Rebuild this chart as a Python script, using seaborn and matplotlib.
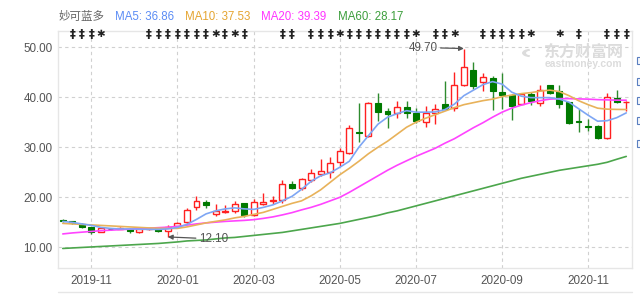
import numpy as np
import pandas as pd
import matplotlib
matplotlib.use("Agg")
import matplotlib.pyplot as plt
from matplotlib.patches import Rectangle, Wedge
from matplotlib.lines import Line2D
import seaborn as sns

# ---------------- data (weekly candles) ----------------
opens = [15.4, 15.2, 14.7, 14.0, 13.1, 13.75, 13.7, 13.7, 13.0, 13.6,
         13.8, 13.2, 14.2, 15.0, 18.0, 19.0, 16.6, 17.1, 17.2, 18.8,
         16.5, 18.7, 19.3, 19.4, 22.7, 21.8, 23.4, 24.6, 25.0, 27.0,
         28.8, 33.0, 32.2, 38.9, 37.2, 36.8, 38.0, 36.8, 35.1, 36.9,
         38.6, 37.8, 42.5, 45.5, 43.1, 43.9, 41.0, 40.4, 38.6, 40.6,
         38.9, 42.4, 41.3, 39.1, 35.2, 34.2, 34.2, 31.8, 39.9, 39.0]
highs = [15.6, 15.3, 14.8, 14.1, 14.1, 13.9, 14.0, 13.9, 13.8, 13.9,
         14.0, 14.4, 15.0, 17.9, 20.2, 19.5, 18.7, 18.4, 19.2, 18.9,
         19.6, 20.9, 20.3, 23.4, 23.3, 23.8, 25.6, 27.6, 28.1, 29.8,
         34.4, 38.8, 39.1, 40.8, 37.9, 39.2, 39.2, 37.9, 38.3, 38.6,
         43.3, 45.1, 49.7, 47.1, 44.9, 44.2, 44.9, 40.6, 40.9, 41.0,
         42.4, 42.5, 42.4, 39.1, 37.6, 35.6, 34.4, 40.9, 41.4, 39.3]
lows = [15.1, 14.7, 13.9, 12.7, 13.0, 13.5, 13.6, 12.9, 12.8, 13.5,
        13.1, 12.1, 13.8, 14.6, 17.4, 17.9, 16.2, 16.9, 16.9, 16.0,
        16.3, 18.4, 18.6, 18.9, 21.6, 21.5, 23.0, 24.2, 23.9, 26.2,
        28.6, 31.0, 32.0, 35.2, 33.8, 35.9, 35.9, 34.9, 34.0, 34.6,
        37.5, 37.3, 42.3, 41.6, 41.3, 37.5, 37.7, 35.5, 38.4, 38.4,
        38.3, 40.6, 37.9, 34.6, 33.1, 33.2, 31.6, 31.6, 38.8, 37.2]
closes = [15.25, 14.8, 14.1, 13.1, 13.9, 13.65, 13.8, 13.2, 13.7, 13.7,
          13.3, 14.1, 14.9, 17.5, 19.2, 18.4, 17.3, 17.3, 18.7, 16.4,
          19.0, 19.1, 19.5, 22.6, 21.9, 23.6, 24.9, 25.2, 26.8, 29.2,
          33.9, 32.8, 38.9, 37.1, 36.6, 38.0, 36.9, 35.3, 36.9, 37.7,
          37.7, 42.4, 46.0, 42.3, 44.1, 41.3, 40.5, 38.2, 40.6, 39.3,
          41.5, 40.8, 38.6, 34.8, 35.0, 34.0, 31.9, 40.0, 39.1, 39.1]

ma5 = [15.2, 15.0, 14.7, 14.4, 14.0, 13.8, 13.7, 13.7, 13.65, 13.6,
       13.6, 13.7, 14.0, 14.6, 15.6, 16.7, 17.3, 17.7, 17.9, 17.7,
       17.6, 18.0, 18.5, 19.3, 20.2, 21.6, 23.2, 24.3, 24.9, 26.0,
       27.2, 30.0, 32.3, 34.6, 36.0, 36.7, 37.3, 37.0, 37.0, 37.05,
       37.5, 38.6, 40.3, 41.4, 42.5, 43.1, 42.6, 41.0, 40.2, 39.9,
       39.9, 39.9, 39.6, 39.0, 37.7, 36.4, 35.2, 35.3, 35.9, 36.86]
ma10 = [14.8, 14.7, 14.6, 14.5, 14.4, 14.3, 14.2, 14.1, 14.0, 13.9,
        13.85, 13.8, 13.8, 14.1, 14.5, 14.9, 15.2, 15.5, 15.9, 16.2,
        16.6, 17.0, 17.6, 18.2, 18.8, 19.3, 20.3, 21.5, 23.0, 24.5,
        25.8, 27.2, 28.7, 30.0, 31.2, 32.6, 34.0, 35.0, 35.8, 36.5,
        37.2, 37.9, 38.5, 38.9, 39.3, 39.6, 40.1, 40.4, 40.7, 40.9,
        41.2, 41.4, 41.1, 40.3, 39.3, 38.5, 37.8, 37.6, 37.55, 37.53]
ma20 = [12.7, 12.9, 13.05, 13.2, 13.35, 13.45, 13.55, 13.65, 13.75, 13.85,
        13.95, 14.05, 14.2, 14.45, 14.7, 14.9, 15.05, 15.2, 15.3, 15.4,
        15.55, 15.8, 16.1, 16.5, 16.95, 17.5, 18.0, 18.6, 19.3, 20.0,
        21.0, 22.1, 23.2, 24.3, 25.4, 26.4, 27.3, 28.2, 29.0, 29.8,
        30.8, 31.7, 32.8, 33.9, 34.9, 36.0, 37.0, 37.8, 38.4, 38.9,
        39.3, 39.6, 39.7, 39.7, 39.65, 39.6, 39.5, 39.45, 39.4, 39.39]
ma60 = [9.8, 9.9, 10.0, 10.1, 10.2, 10.3, 10.4, 10.5, 10.6, 10.7,
        10.8, 10.95, 11.1, 11.3, 11.4, 11.5, 11.7, 11.9, 12.0, 12.2,
        12.4, 12.6, 12.8, 13.0, 13.3, 13.6, 13.9, 14.2, 14.5, 14.8,
        15.2, 15.6, 16.0, 16.4, 16.9, 17.3, 17.8, 18.3, 18.8, 19.3,
        19.8, 20.3, 20.8, 21.3, 21.8, 22.3, 22.8, 23.3, 23.8, 24.2,
        24.6, 25.0, 25.4, 25.7, 26.0, 26.3, 26.6, 27.0, 27.6, 28.17]

tick_pos = [3, 12, 20, 29, 37, 46, 55]
tick_labels = ["2019-11", "2020-01", "2020-03", "2020-05", "2020-07", "2020-09", "2020-11"]
y_ticks = [10, 20, 30, 40, 50]

dagger_idx = [1, 2, 3, 9, 10, 11, 12, 13, 14, 15, 17, 19, 23, 24, 26, 27, 28,
              30, 31, 32, 33, 34, 35, 36, 39, 40, 44, 45, 46, 47, 48, 54, 57, 58, 59]
star_idx = [4, 16, 18, 29, 37, 41, 49, 52]

stock_name = "妙可蓝多"
ma_labels = ["MA5: 36.86", "MA10: 37.53", "MA20: 39.39", "MA60: 28.17"]

# ---------------- style ----------------
sns.set_theme(style="white")
plt.rcParams["font.family"] = ["Liberation Sans", "Noto Sans CJK SC", "DejaVu Sans"]

RED = "#FF2020"
GREEN = "#007A00"
GREEN_WICK = "#2E8B2E"
C_MA5, C_MA10, C_MA20, C_MA60 = "#7EA6F4", "#E8B25A", "#FF44FF", "#4CA64C"

W, H = 640, 297
fig = plt.figure(figsize=(6.4, 2.97), dpi=100)
fig.patch.set_facecolor("white")
ax = fig.add_axes([58 / W, 1 - 268 / H, (632 - 58) / W, (268 - 31) / H])


def px(x, y):
    return x / W, 1 - y / H


# watermark (drawn behind the axes content)
fig.text(*px(583, 52), "东方财富网", ha="center", va="center", fontsize=11.5,
         color="#DCDCDC", fontweight="bold", zorder=0)
fig.text(*px(583, 64), "eastmoney.com", ha="center", va="center", fontsize=7.5,
         color="#DCDCDC", fontweight="bold", zorder=0)
fig.add_artist(Wedge(px(531, 53), 9 / W, 100, 260, width=4 / W, transform=fig.transFigure,
                     facecolor="#DCDCDC", edgecolor="none", zorder=0))
ax.patch.set_alpha(0)

n = len(closes)
idx = np.arange(n)
df = pd.DataFrame({"i": idx, "open": opens, "high": highs, "low": lows, "close": closes,
                   "MA5": ma5, "MA10": ma10, "MA20": ma20, "MA60": ma60})

# grid
for yv in y_ticks:
    ax.axhline(yv, color="#D0D0D0", lw=0.8, ls=(0, (3, 3)), zorder=0)
for xv in tick_pos:
    ax.axvline(xv, color="#D0D0D0", lw=0.8, ls=(0, (3, 3)), zorder=0)

# candles
bw = 0.62
for _, r in df.iterrows():
    rising = r["close"] >= r["open"]
    wcol = RED if rising else GREEN_WICK
    lo_b, hi_b = min(r["open"], r["close"]), max(r["open"], r["close"])
    ax.vlines(r["i"], r["low"], lo_b, color=wcol, lw=1.0, zorder=3)
    ax.vlines(r["i"], hi_b, r["high"], color=wcol, lw=1.0, zorder=3)
    h = max(hi_b - lo_b, 0.12)
    if rising:
        ax.add_patch(Rectangle((r["i"] - bw / 2, lo_b), bw, h, facecolor="white",
                               edgecolor=RED, lw=1.0, zorder=4))
    else:
        ax.add_patch(Rectangle((r["i"] - bw / 2, lo_b), bw, h, facecolor=GREEN,
                               edgecolor=GREEN, lw=0.8, zorder=4))

# moving averages via seaborn
for col, c in [("MA60", C_MA60), ("MA20", C_MA20), ("MA10", C_MA10), ("MA5", C_MA5)]:
    sns.lineplot(data=df, x="i", y=col, ax=ax, color=c, lw=1.2, zorder=5, legend=False)

# markers on top
for i in dagger_idx:
    ax.text(i, 52.6, "‡", ha="center", va="center", fontsize=8.5, fontweight="bold",
            color="#222222", family=["DejaVu Sans"], zorder=6)
for i in star_idx:
    ax.text(i, 52.6, "✱", ha="center", va="center", fontsize=7.5,
            color="#222222", family=["DejaVu Sans"], zorder=6)

# high / low annotations
imax = int(np.argmax(highs))
imin = int(np.argmin(lows))
ax.annotate(f"{highs[imax]:.2f}", xy=(imax, highs[imax]), xytext=(imax - 4.3, highs[imax] + 0.2),
            ha="center", va="center", fontsize=8.4, color="#555555",
            arrowprops=dict(arrowstyle="-|>", color="#555555", lw=0.9, mutation_scale=7,
                            shrinkA=0, shrinkB=0), zorder=7)
ax.annotate(f"{lows[imin]:.2f}", xy=(imin, lows[imin]), xytext=(imin + 4.8, lows[imin] - 0.4),
            ha="center", va="center", fontsize=8.4, color="#555555",
            arrowprops=dict(arrowstyle="-|>", color="#555555", lw=0.9, mutation_scale=7,
                            shrinkA=0, shrinkB=0), zorder=7)

# axes cosmetics
ax.set_xlim(-0.5, 59.6)
ax.set_ylim(5.9, 53.2)
ax.set_xticks(tick_pos)
ax.set_xticklabels(tick_labels)
ax.set_yticks(y_ticks)
ax.set_yticklabels([f"{v:.2f}" for v in y_ticks])
ax.tick_params(axis="both", length=0, labelsize=8.4, labelcolor="#555555")
ax.tick_params(axis="y", pad=4)
ax.tick_params(axis="x", pad=5)
ax.set_xlabel("")
ax.set_ylabel("")
for s in ax.spines.values():
    s.set_color("#E6E6E6")
    s.set_linewidth(1.0)

# header legend
fig.text(*px(59, 17), stock_name, ha="left", va="center", fontsize=8.3, color="#666666")
for xpos, lab, c in zip([115, 185, 261, 338], ma_labels,
                        ["#5B8CF5", "#E5A531", "#FF33FF", "#3C9E3C"]):
    fig.text(*px(xpos, 17), lab, ha="left", va="center", fontsize=8.3, color=c)

# partial UI elements at the right edge and bottom
for yc in [60, 81, 100, 121, 143]:
    fig.add_artist(Rectangle(px(636.5, yc + 3.5), 7 / W, 7 / H, transform=fig.transFigure,
                             facecolor="#F4F7FC", edgecolor="#5A7FC0", lw=0.8))
fig.add_artist(Line2D([58 / W, 632 / W], [1 - 292 / H, 1 - 292 / H],
                      transform=fig.transFigure, color="#E6E6E6", lw=1.0))

fig.savefig("out.png", dpi=100, facecolor="white")
